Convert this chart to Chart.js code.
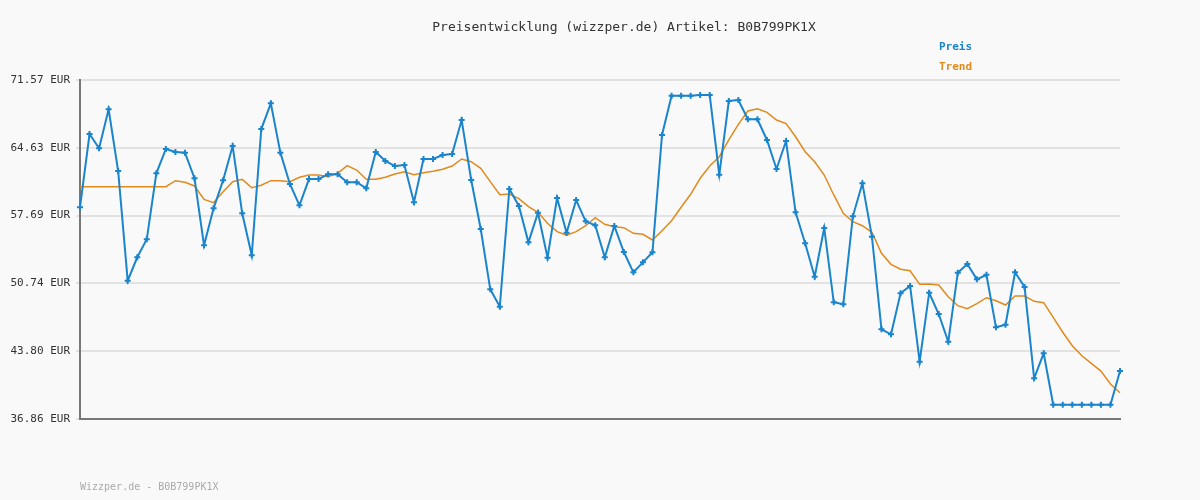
<!DOCTYPE html>
<html>
<head>
<meta charset="utf-8">
<script src="https://cdn.jsdelivr.net/npm/chart.js@4"></script>
<style>
  body { margin: 0; background: #f9f9f9; }
  canvas { display: block; }
</style>
</head>
<body>
<canvas id="chart" width="1200" height="500"></canvas>
<script>
const preis = [
  58.54, 66.04, 64.58, 68.57, 62.25, 51.02, 53.42, 55.26, 62.02, 64.51,
  64.20, 64.13, 61.51, 54.64, 58.43, 61.30, 64.81, 57.92, 53.62, 66.55,
  69.18, 64.13, 60.92, 58.74, 61.43, 61.43, 61.91, 61.91, 61.10, 61.10,
  60.48, 64.20, 63.28, 62.76, 62.87, 59.05, 63.48, 63.48, 63.89, 63.99,
  67.47, 61.33, 56.31, 50.14, 48.36, 60.41, 58.67, 54.95, 57.98, 53.38,
  59.49, 55.93, 59.28, 57.10, 56.69, 53.42, 56.62, 53.96, 51.88, 52.90,
  53.93, 65.94, 69.96, 69.96, 69.96, 70.03, 70.03, 61.87, 69.42, 69.52,
  67.55, 67.55, 65.43, 62.46, 65.32, 58.02, 54.85, 51.43, 56.42, 48.81,
  48.60, 57.61, 60.99, 55.53, 46.04, 45.53, 49.73, 50.48, 42.73, 49.79,
  47.61, 44.77, 51.84, 52.73, 51.16, 51.63, 46.25, 46.52, 51.88, 50.38,
  41.03, 43.59, 38.32, 38.32, 38.32, 38.32, 38.32, 38.32, 38.32, 41.77
];
const trend = [
  60.65, 60.65, 60.65, 60.65, 60.65, 60.65, 60.65, 60.65, 60.65, 60.65,
  61.26, 61.10, 60.72, 59.35, 59.01, 60.13, 61.16, 61.40, 60.54, 60.79,
  61.26, 61.26, 61.16, 61.61, 61.84, 61.84, 61.67, 62.02, 62.80, 62.35,
  61.40, 61.40, 61.61, 61.95, 62.18, 61.87, 62.08, 62.22, 62.43, 62.76,
  63.48, 63.20, 62.53, 61.16, 59.83, 59.90, 59.42, 58.60, 58.02, 56.90,
  56.04, 55.67, 56.04, 56.65, 57.47, 56.79, 56.55, 56.45, 55.87, 55.77,
  55.19, 56.14, 57.16, 58.54, 59.87, 61.51, 62.76, 63.72, 65.43, 67.03,
  68.40, 68.63, 68.26, 67.47, 67.10, 65.76, 64.23, 63.20, 61.84, 59.80,
  57.92, 57.06, 56.65, 55.98, 53.83, 52.70, 52.19, 52.04, 50.65, 50.68,
  50.58, 49.38, 48.46, 48.15, 48.67, 49.28, 48.97, 48.53, 49.45, 49.45,
  48.91, 48.77, 47.27, 45.74, 44.37, 43.34, 42.56, 41.77, 40.44, 39.55
];
const yTicks = [36.86, 43.80, 50.74, 57.69, 64.63, 71.57];
const labels = preis.map((_, i) => i + 1);

const mono = "'DejaVu Sans Mono', monospace";
const BLUE = '#1a84cc', ORANGE = '#e08a1e';

// title, legend and footer are drawn as canvas text
const decor = {
  id: 'decor',
  beforeDraw(chart) {
    const c = chart.ctx;
    c.save();
    c.fillStyle = '#f9f9f9';
    c.fillRect(0, 0, chart.width, chart.height);
    c.restore();
  },
  afterDraw(chart) {
    const c = chart.ctx;
    c.save();
    c.textBaseline = 'middle';
    c.font = '13px ' + mono;
    c.fillStyle = '#333';
    c.textAlign = 'center';
    c.fillText('Preisentwicklung (wizzper.de) Artikel: B0B799PK1X', 624, 28);
    c.textAlign = 'left';
    c.font = 'bold 11px ' + mono;
    c.fillStyle = BLUE;
    c.fillText('Preis', 939, 47);
    c.fillStyle = ORANGE;
    c.fillText('Trend', 939, 67);
    c.font = '10px ' + mono;
    c.fillStyle = '#aaa';
    c.fillText('Wizzper.de - B0B799PK1X', 80, 487);
    c.restore();
  }
};

new Chart(document.getElementById('chart'), {
  type: 'line',
  data: {
    labels: labels,
    datasets: [
      {
        label: 'Preis',
        data: preis,
        borderColor: BLUE,
        backgroundColor: BLUE,
        borderWidth: 2,
        pointStyle: 'cross',
        pointRadius: 3,
        pointBorderWidth: 2,
        tension: 0
      },
      {
        label: 'Trend',
        data: trend,
        borderColor: ORANGE,
        borderWidth: 1.5,
        pointRadius: 0,
        tension: 0
      }
    ]
  },
  options: {
    responsive: false,
    animation: false,
    layout: { padding: { top: 80, right: 80, bottom: 81, left: 0 } },
    plugins: { legend: { display: false }, title: { display: false }, tooltip: { enabled: false } },
    scales: {
      x: {
        offset: false,
        ticks: { display: false },
        grid: { display: false },
        border: { color: '#777', width: 2 },
        afterFit: s => { s.height = 0; }
      },
      y: {
        min: 36.86,
        max: 71.57,
        afterBuildTicks: s => { s.ticks = yTicks.map(v => ({ value: v })); },
        afterFit: s => { s.width = 80; },
        ticks: {
          callback: v => v.toFixed(2) + ' EUR',
          color: '#333',
          font: { family: mono, size: 11 },
          padding: 6
        },
        grid: { color: '#e2e2e2', lineWidth: 2, drawTicks: true, tickLength: 4 },
        border: { color: '#777', width: 2 }
      }
    }
  },
  plugins: [decor]
});
</script>
</body>
</html>
